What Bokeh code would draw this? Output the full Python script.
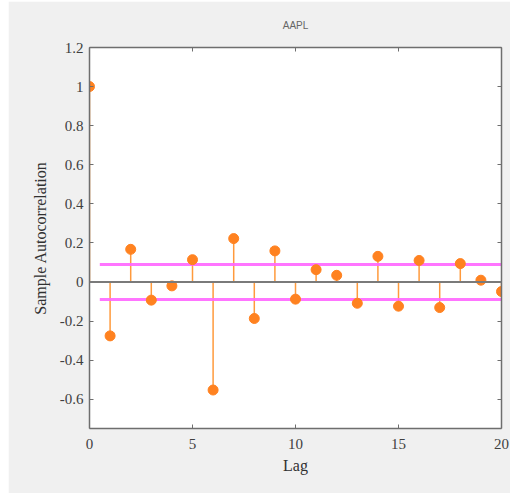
from bokeh.plotting import figure
from bokeh.models import LinearAxis, FixedTicker, CustomJSTickFormatter, Span, Range1d
from bokeh.embed import file_html
from bokeh.resources import INLINE

lags = list(range(21))
acf = [1.0, -0.276, 0.167, -0.093, -0.02, 0.114, -0.553, 0.222, -0.187, 0.159,
       -0.088, 0.063, 0.034, -0.109, 0.131, -0.124, 0.11, -0.131, 0.094, 0.009, -0.049]
bound_x = [0.5, 20]
upper_bound = [0.09, 0.09]
lower_bound = [-0.09, -0.09]
x_ticks = [0, 5, 10, 15, 20]
y_ticks = [-0.6, -0.4, -0.2, 0, 0.2, 0.4, 0.6, 0.8, 1.0, 1.2]

BG = "#f0f0f0"
AX = "#6e6e6e"
SERIF = "Liberation Serif"

p = figure(frame_width=412, frame_height=381, output_backend="svg", toolbar_location=None,
           x_range=Range1d(0, 20), y_range=Range1d(-0.75, 1.2),
           min_border_left=81, min_border_right=9, min_border_top=40, min_border_bottom=65,
           background_fill_color="white", border_fill_color=BG, title="AAPL")
p.margin = (1, 0, 0, 8)
p.outline_line_color = None
p.grid.visible = False

p.title.align = "center"
p.title.text_font = "Liberation Sans"
p.title.text_font_size = "10px"
p.title.text_font_style = "normal"
p.title.text_color = "#666666"
p.title.standoff = 33

fmt = CustomJSTickFormatter(code="return String(Math.round(tick*10)/10);")
blank = CustomJSTickFormatter(code="return '';")

xaxis = p.below[0]
yaxis = p.left[0]
xaxis.ticker = FixedTicker(ticks=x_ticks)
yaxis.ticker = FixedTicker(ticks=y_ticks)
xaxis.formatter = fmt
yaxis.formatter = fmt
xaxis.axis_label = "Lag"
yaxis.axis_label = "Sample Autocorrelation"

top = LinearAxis(ticker=FixedTicker(ticks=x_ticks), formatter=blank)
right = LinearAxis(ticker=FixedTicker(ticks=y_ticks), formatter=blank)
p.add_layout(top, "above")
p.add_layout(right, "right")

for ax in [xaxis, yaxis, top, right]:
    ax.axis_line_color = AX
    ax.axis_line_width = 1.5
    ax.major_tick_line_color = AX
    ax.major_tick_in = 4
    ax.major_tick_out = 0
    ax.minor_tick_line_color = None
    ax.major_label_text_font = SERIF
    ax.major_label_text_color = "#404040"
    ax.major_label_text_font_size = "15px"
    ax.axis_label_text_font = SERIF
    ax.axis_label_text_font_style = "normal"
    ax.axis_label_text_color = "#303030"
    ax.axis_label_text_font_size = "16px"
xaxis.axis_label_standoff = 5
yaxis.axis_label_standoff = 8
yaxis.major_label_standoff = 6
xaxis.major_label_standoff = 10
top.major_label_standoff = 0
right.major_label_standoff = 0

p.add_layout(Span(location=0, dimension="width", line_color="#7a7a7a", line_width=2))

p.segment(x0=lags, y0=[0] * len(lags), x1=lags, y1=acf, line_color="#ff9a3c", line_width=1.5)
p.line(bound_x, upper_bound, line_color="#ff66ff", line_width=3, line_alpha=0.9)
p.line(bound_x, lower_bound, line_color="#ff66ff", line_width=3, line_alpha=0.9)
p.scatter(lags, acf, size=10, fill_color="#ff8220", line_color="#ff8220")

open("out.html", "w").write(file_html(p, INLINE))
